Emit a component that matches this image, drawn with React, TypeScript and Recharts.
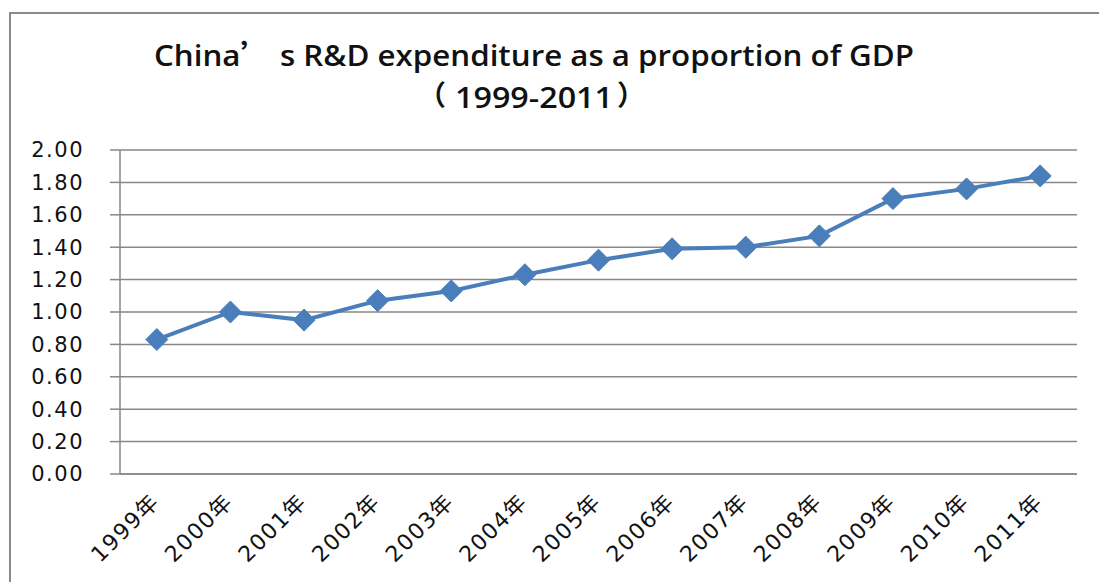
import { LineChart, Line, XAxis, YAxis, CartesianGrid } from 'recharts';

const years = ['1999年', '2000年', '2001年', '2002年', '2003年', '2004年', '2005年', '2006年', '2007年', '2008年', '2009年', '2010年', '2011年'];
const ratio = [0.83, 1.0, 0.95, 1.07, 1.13, 1.23, 1.32, 1.39, 1.4, 1.47, 1.7, 1.76, 1.84];
const yTicks = [0, 0.2, 0.4, 0.6, 0.8, 1.0, 1.2, 1.4, 1.6, 1.8, 2.0];
const titleStart = 'China';
const titleQuote = '’';
const titleRest = ' s R&D expenditure as a proportion of GDP';
const titleLine2 = ['（', '1999-2011', '）'];

// numeric x so points sit in the middle of each year slot, ticks on the slot edges
const data = years.map((year, i) => ({ year, pos: i + 0.5, ratio: ratio[i] }));
const edgeTicks = years.map((_, i) => i).concat(years.length);
const midTicks = data.map((d) => d.pos);

const axisColor = '#878787';
const lineColor = '#4A7EBB';
const cjk = '"Noto Sans CJK SC", sans-serif';

function Diamond(props: any) {
  const { cx, cy } = props;
  if (cx == null || cy == null) return null;
  const r = 11;
  return (
    <path
      d={`M${cx},${cy - r} L${cx + r},${cy} L${cx},${cy + r} L${cx - r},${cy} Z`}
      fill={lineColor}
      stroke={lineColor}
      strokeWidth={1}
    />
  );
}

function YearTick(props: any) {
  const { x, y, payload } = props;
  const label = years[Math.floor(payload.value)];
  const ax = x + 4;
  const ay = y + 19;
  return (
    <text
      x={ax}
      y={ay}
      transform={`rotate(-45, ${ax}, ${ay})`}
      textAnchor="end"
      fill="#111"
      style={{ fontFamily: '"DejaVu Sans", "Noto Sans CJK SC", sans-serif', fontSize: 22, letterSpacing: 1.5 }}
    >
      {label}
    </text>
  );
}

export default function App() {
  const titleFont = { fontFamily: '"Open Sans", "Noto Sans CJK SC", sans-serif', fontWeight: 600 };
  return (
    <div style={{ position: 'relative', width: 1099, height: 582, overflow: 'hidden', background: '#fff' }}>
      <style>{'body{margin:0;}'}</style>
      <div
        style={{
          position: 'absolute',
          left: 9,
          top: 12,
          width: 1200,
          height: 700,
          borderTop: '2px solid #8a8a8a',
          borderLeft: '2px solid #8a8a8a',
        }}
      />
      <svg width={1099} height={130} style={{ position: 'absolute', left: 0, top: 0 }}>
        <text
          x={154}
          y={66}
          textLength={760}
          lengthAdjust="spacingAndGlyphs"
          style={{ ...titleFont, fontSize: 29 }}
          fill="#111"
        >
          {titleStart}
          <tspan style={{ fontFamily: cjk }}>{titleQuote}</tspan>
          {titleRest}
        </text>
        <text x={446} y={106} textAnchor="end" style={{ fontFamily: cjk, fontSize: 28, fontWeight: 700 }} fill="#111">
          {titleLine2[0]}
        </text>
        <text
          x={455}
          y={108}
          textLength={158}
          lengthAdjust="spacingAndGlyphs"
          style={{ ...titleFont, fontSize: 28 }}
          fill="#111"
        >
          {titleLine2[1]}
        </text>
        <text x={617} y={106} textAnchor="start" style={{ fontFamily: cjk, fontSize: 28, fontWeight: 700 }} fill="#111">
          {titleLine2[2]}
        </text>
      </svg>
      <div style={{ position: 'absolute', left: 0, top: 0 }}>
        <LineChart width={1099} height={582} data={data} margin={{ top: 150, right: 22, left: 0, bottom: 0 }}>
          <CartesianGrid vertical={false} stroke={axisColor} strokeWidth={1.5} />
          <XAxis
            xAxisId={0}
            type="number"
            dataKey="pos"
            domain={[0, years.length]}
            ticks={edgeTicks}
            tick={false}
            tickSize={10}
            height={10}
            stroke={axisColor}
            strokeWidth={1.5}
            allowDataOverflow
          />
          <XAxis
            xAxisId="labels"
            type="number"
            dataKey="pos"
            domain={[0, years.length]}
            ticks={midTicks}
            axisLine={false}
            tickLine={false}
            tickSize={0}
            tickMargin={0}
            tick={<YearTick />}
            height={98}
            interval={0}
          />
          <YAxis
            width={120}
            domain={[0, 2]}
            ticks={yTicks}
            tickSize={10}
            tickMargin={26}
            stroke={axisColor}
            strokeWidth={1.5}
            tickFormatter={(v: number) => v.toFixed(2)}
            tick={{ fill: '#111', fontSize: 21, fontFamily: '"DejaVu Sans", sans-serif', letterSpacing: 1.5 }}
            interval={0}
          />
          <Line
            xAxisId={0}
            type="linear"
            dataKey="ratio"
            stroke={lineColor}
            strokeWidth={4}
            dot={<Diamond />}
            activeDot={false}
            isAnimationActive={false}
          />
        </LineChart>
      </div>
    </div>
  );
}
